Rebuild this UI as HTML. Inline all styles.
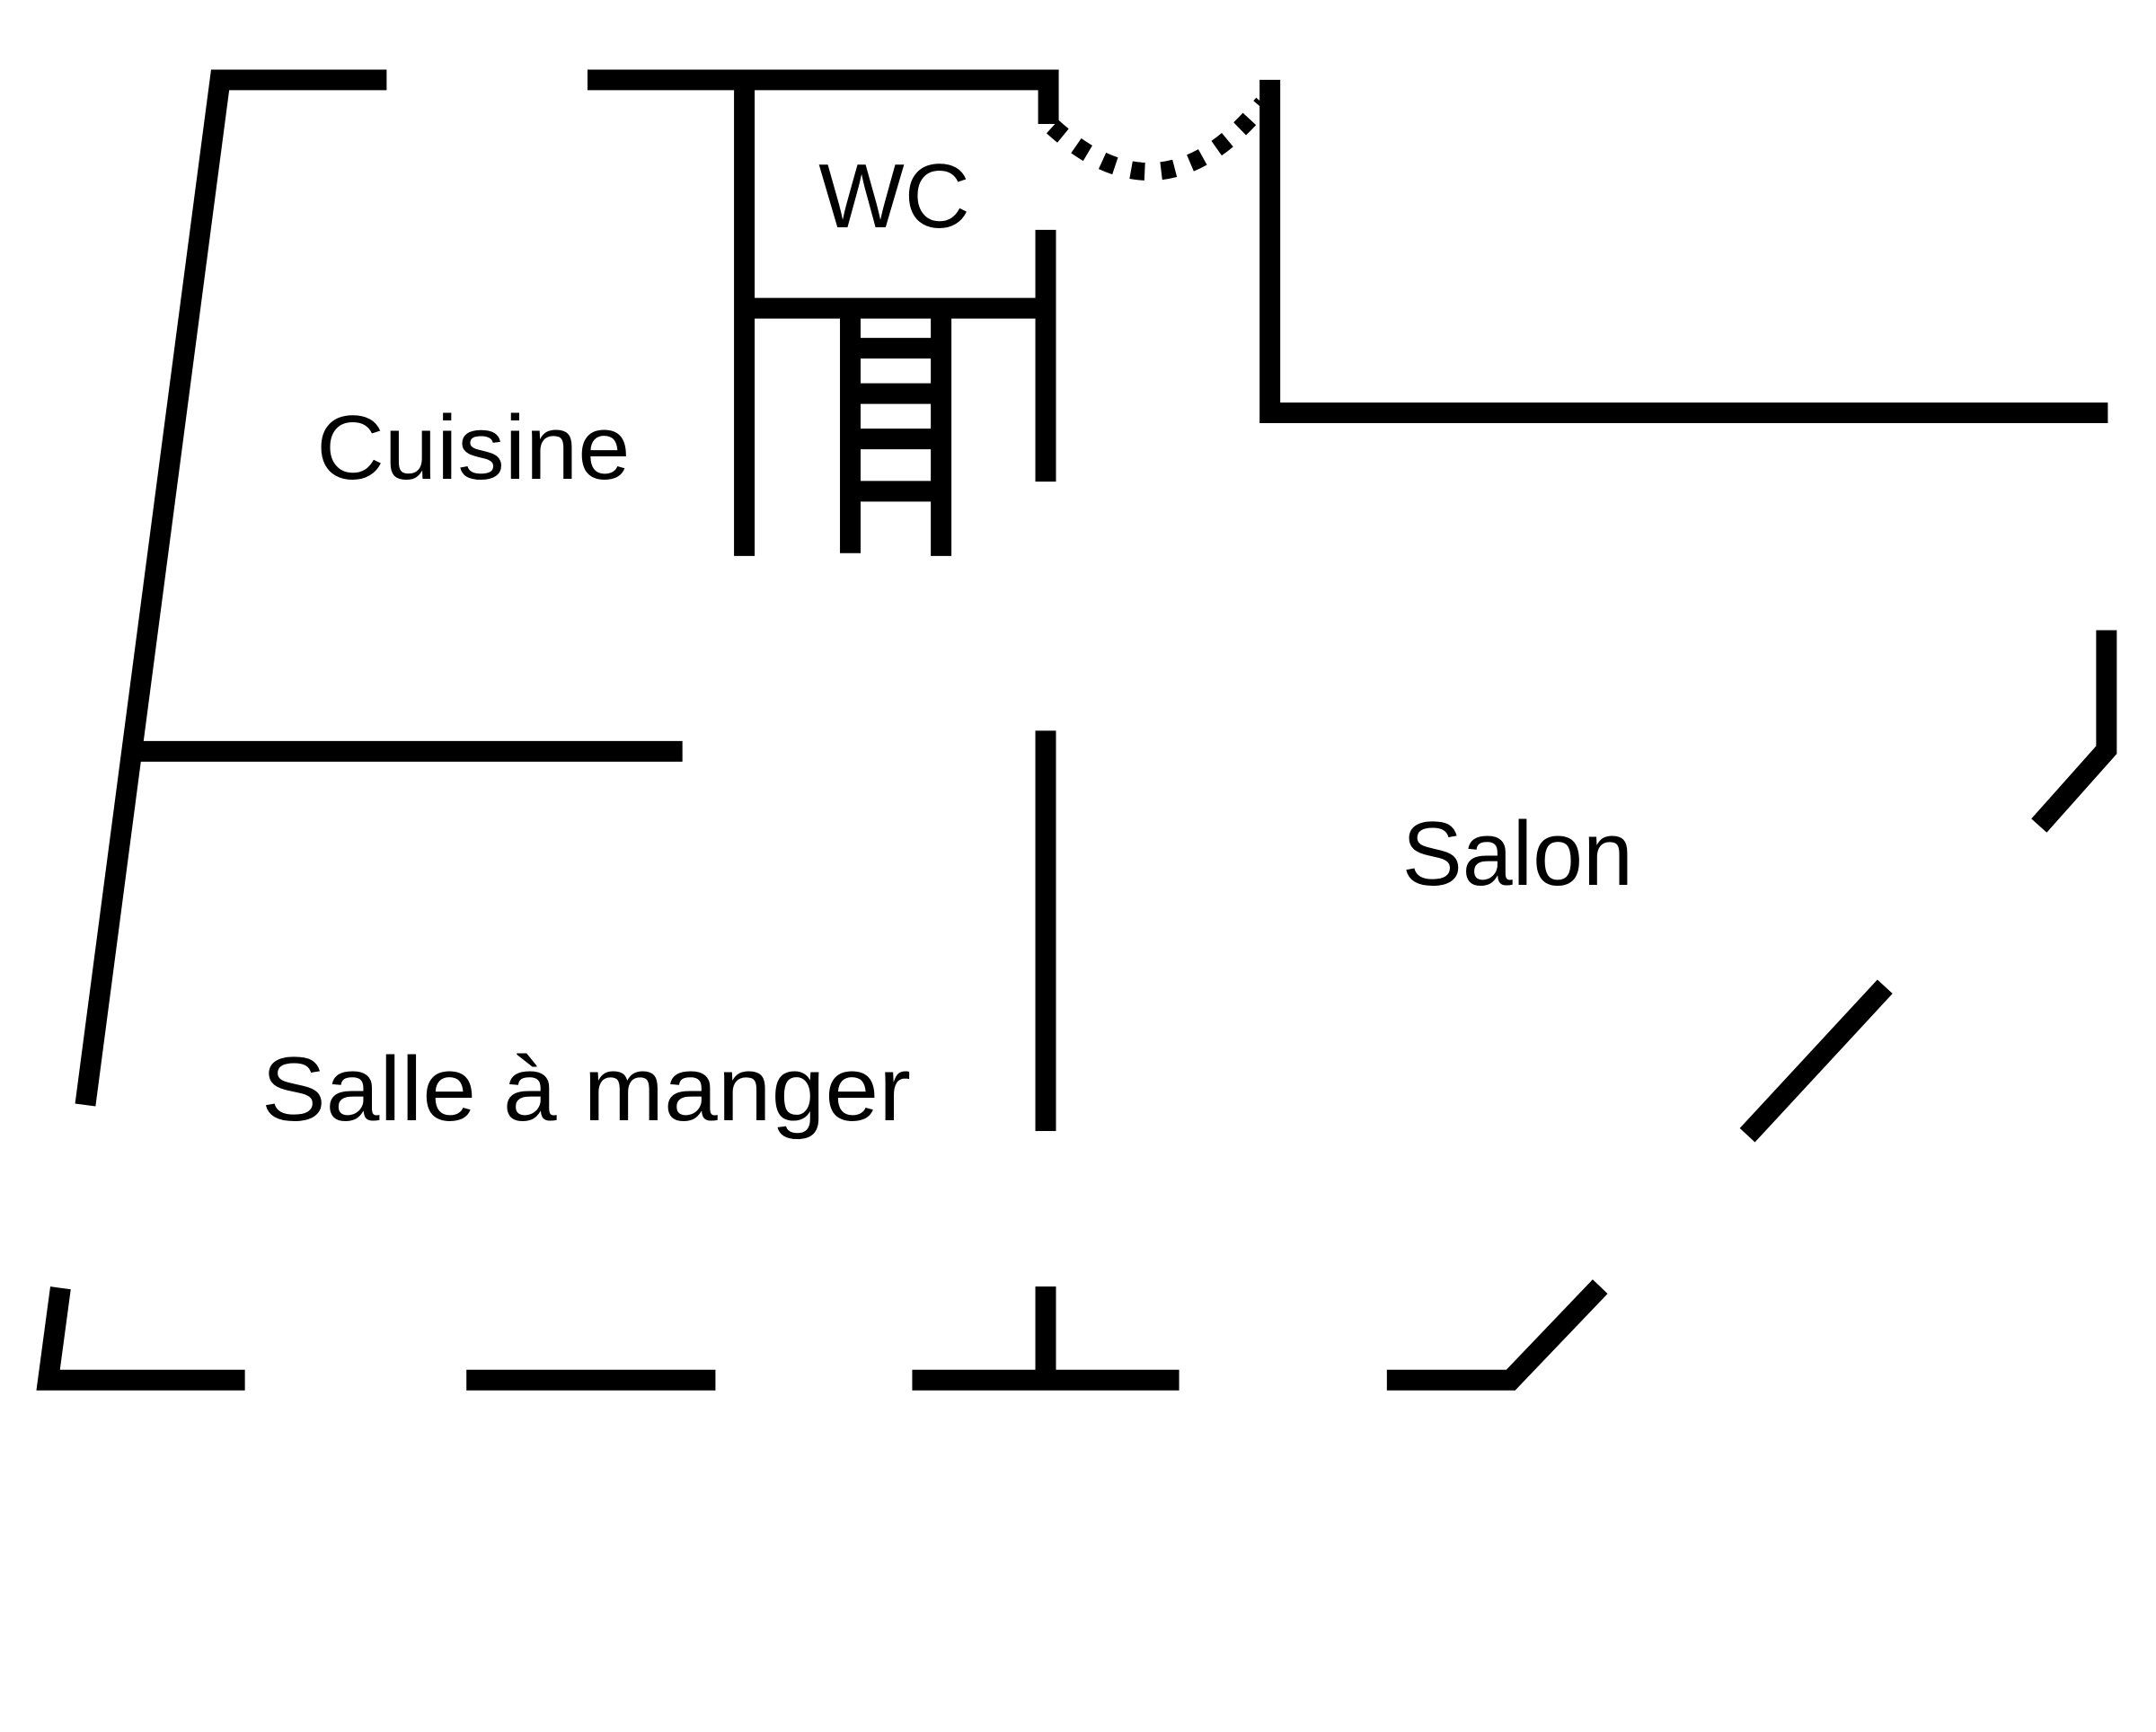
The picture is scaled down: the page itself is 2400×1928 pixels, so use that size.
<!DOCTYPE html>
<html><head><meta charset="utf-8"><style>
html,body{margin:0;padding:0;background:#fff;}
svg{display:block;}
text{font-family:"Liberation Sans",sans-serif;fill:#000;}
</style></head><body>
<svg width="2400" height="1928" viewBox="0 0 1567 1258.7" xmlns="http://www.w3.org/2000/svg">
<g fill="none" stroke="#000" stroke-width="15" stroke-linejoin="miter" stroke-linecap="butt">
<polyline points="281,58 160,58 62,803"/>
<polyline points="427,58 762,58 762,90"/>
<line x1="541" y1="58" x2="541" y2="404"/>
<line x1="541" y1="224" x2="760" y2="224"/>
<line x1="760" y1="167" x2="760" y2="350"/>
<line x1="618" y1="224" x2="618" y2="402"/>
<line x1="684" y1="224" x2="684" y2="404"/>
<line x1="618" y1="253" x2="684" y2="253"/>
<line x1="618" y1="286" x2="684" y2="286"/>
<line x1="618" y1="319" x2="684" y2="319"/>
<line x1="618" y1="357" x2="684" y2="357"/>
<path d="M765,92 Q845,165 918,75" stroke-dasharray="10,12" stroke-width="13"/>
<polyline points="923,58 923,300 1532,300"/>
<polyline points="1531,458 1531,545 1482,600"/>
<line x1="1370" y1="717" x2="1270" y2="825"/>
<polyline points="1163,935 1098,1003 1008,1003"/>
<polyline points="44,936 35,1003 178,1003"/>
<line x1="339" y1="1003" x2="520" y2="1003"/>
<line x1="663" y1="1003" x2="857" y2="1003"/>
<line x1="760" y1="935" x2="760" y2="1003"/>
<line x1="760" y1="531" x2="760" y2="822"/>
<line x1="101" y1="546" x2="496" y2="546"/>
</g>
<text x="595" y="165" font-size="66" textLength="110" lengthAdjust="spacingAndGlyphs">WC</text>
<text x="230" y="348" font-size="66" textLength="228" lengthAdjust="spacingAndGlyphs">Cuisine</text>
<text x="1019" y="643" font-size="66" textLength="168" lengthAdjust="spacingAndGlyphs">Salon</text>
<text x="190" y="814" font-size="66" textLength="472" lengthAdjust="spacingAndGlyphs">Salle à manger</text>
</svg>
</body></html>
